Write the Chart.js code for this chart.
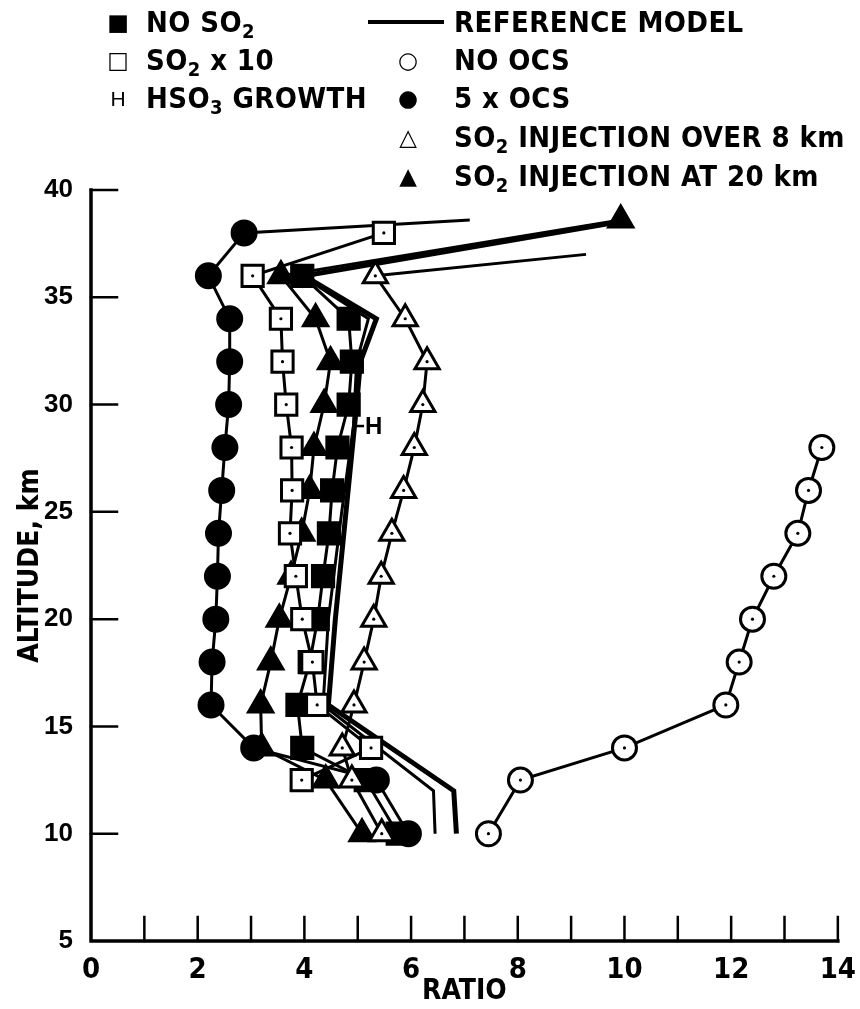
<!DOCTYPE html>
<html>
<head>
<meta charset="utf-8">
<script src="https://cdn.jsdelivr.net/npm/chart.js@4"></script>
<style>
  body { margin: 0; background: #fff; }
  #wrap { position: relative; width: 860px; height: 1009px; }
  .leg { position: absolute; font-family: 'Liberation Sans Narrow', 'DejaVu Sans Condensed', sans-serif;
         font-weight: bold; font-size: 29px; letter-spacing: 0.4px; color: #000; white-space: nowrap; line-height: 1; }
  .leg sub { font-size: 20px; vertical-align: -6px; line-height: 0; }
  .mk { position: absolute; font-family: 'DejaVu Sans', sans-serif; font-size: 23px; line-height: 1; color: #000;
        transform: translate(-50%, -50%); }
</style>
</head>
<body>
<div id="wrap">
  <canvas id="ratioChart" width="860" height="1009"></canvas>

  <span class="mk" style="left:118px;top:22px;">■</span>
  <span class="leg" style="left:146px;top:8px;">NO SO<sub>2</sub></span>
  <span class="mk" style="left:118px;top:60px;">□</span>
  <span class="leg" style="left:146px;top:46px;">SO<sub>2</sub> x 10</span>
  <span class="mk" style="left:118px;top:98px;font-family:'Liberation Sans';font-size:21px;">H</span>
  <span class="leg" style="left:146px;top:84px;">HSO<sub>3</sub> GROWTH</span>

  <span style="position:absolute;left:368px;top:20px;width:76px;height:4px;background:#000;"></span>
  <span class="leg" style="left:454px;top:8px;">REFERENCE MODEL</span>
  <span class="mk" style="left:408px;top:60px;">○</span>
  <span class="leg" style="left:454px;top:46px;">NO OCS</span>
  <span class="mk" style="left:408px;top:98px;">●</span>
  <span class="leg" style="left:454px;top:84px;">5 x OCS</span>
  <span class="mk" style="left:408px;top:137px;">△</span>
  <span class="leg" style="left:454px;top:123px;">SO<sub>2</sub> INJECTION OVER 8 km</span>
  <span class="mk" style="left:408px;top:176px;">▲</span>
  <span class="leg" style="left:454px;top:162px;">SO<sub>2</sub> INJECTION AT 20 km</span>
</div>

<script>
// altitudes (km) and ratios
const noOcsAlt   = [10, 12.5, 14, 16, 18, 20, 22, 24, 26, 28];
const noOcsRatio = [7.45, 8.05, 10.0, 11.9, 12.15, 12.4, 12.8, 13.25, 13.45, 13.7];

const fiveOcsAlt   = [10, 12.5, 14, 16, 18, 20, 22, 24, 26, 28, 30, 32, 34, 36, 38, 38.6];
const fiveOcsRatio = [5.95, 5.35, 3.05, 2.25, 2.27, 2.34, 2.37, 2.39, 2.45, 2.51, 2.58, 2.6, 2.6, 2.2, 2.87, 7.1];

const so2x10Alt   = [12.5, 14, 16, 18, 20, 22, 24, 26, 28, 30, 32, 34, 36, 38];
const so2x10Ratio = [3.95, 5.25, 4.24, 4.15, 3.96, 3.84, 3.73, 3.77, 3.76, 3.66, 3.59, 3.56, 3.03, 5.49];

const noSo2Alt   = [10, 12.5, 14, 16, 18, 20, 22, 24, 26, 28, 30, 32, 34, 36];
const noSo2Ratio = [5.75, 5.15, 3.96, 3.87, 4.1, 4.25, 4.35, 4.46, 4.52, 4.62, 4.83, 4.89, 4.83, 3.96];

const inj20Alt   = [10, 12.5, 14, 16, 18, 20, 22, 24, 26, 28, 30, 32, 34, 36, 38.6];
const inj20Ratio = [5.08, 4.4, 3.2, 3.18, 3.37, 3.53, 3.75, 3.95, 4.1, 4.18, 4.37, 4.49, 4.21, 3.56, 9.93];

const inj8Alt   = [10, 12.5, 14, 16, 18, 20, 22, 24, 26, 28, 30, 32, 34, 36, 37];
const inj8Ratio = [5.45, 4.89, 4.71, 4.93, 5.12, 5.3, 5.44, 5.64, 5.86, 6.06, 6.22, 6.3, 5.89, 5.33, 9.28];

const refAlt   = [10, 12, 16, 20, 25, 30, 32, 34, 36, 38.5];
const refRatio = [6.85, 6.8, 4.45, 4.58, 4.78, 4.98, 5.05, 5.35, 4.0, 9.85];

const hso3Alt   = [10, 12, 16, 20, 25, 29, 32, 34, 36];
const hso3Ratio = [6.45, 6.42, 4.35, 4.45, 4.7, 4.92, 4.98, 5.2, 3.95];

const xTicks = [0, 2, 4, 6, 8, 10, 12, 14];
const yTicks = [5, 10, 15, 20, 25, 30, 35, 40];
const hLabel = { x: 4.95, y: 29 };   // where the "-H" tag sits on the HSO3 curve

const pts = (xs, ys) => xs.map((x, i) => ({ x: x, y: ys[i] }));

// marker on every point except unmarked line ends
function markerUntil(n, r) {
  return ctx => (ctx.dataIndex < n ? r : 0);
}

function series(xs, ys, style, extra) {
  return Object.assign({
    data: pts(xs, ys),
    showLine: true,
    borderColor: '#000',
    borderWidth: 3,
    pointBorderColor: '#000',
    pointBorderWidth: 3,
    pointHoverRadius: 0,
    pointStyle: style,
    clip: false
  }, extra);
}

function dots(xs, ys, n) {
  return {
    data: pts(xs.slice(0, n), ys.slice(0, n)),
    showLine: false,
    pointRadius: 1.6,
    pointBorderWidth: 0,
    pointBackgroundColor: '#000',
    pointStyle: 'circle',
    clip: false
  };
}

// axis lines and inward tick marks, like the printed figure
const inwardAxes = {
  id: 'inwardAxes',
  beforeDatasetsDraw(chart) {
    const { ctx, chartArea: a, scales: { x, y } } = chart;
    ctx.save();
    ctx.strokeStyle = '#000';
    ctx.lineCap = 'square';
    ctx.lineWidth = 3.5;
    ctx.beginPath();
    ctx.moveTo(a.left, y.getPixelForValue(40));
    ctx.lineTo(a.left, a.bottom);
    ctx.lineTo(x.getPixelForValue(14), a.bottom);
    ctx.stroke();
    ctx.lineWidth = 2.5;
    ctx.beginPath();
    yTicks.slice(1).forEach(v => {
      const py = y.getPixelForValue(v);
      ctx.moveTo(a.left, py);
      ctx.lineTo(a.left + 26, py);
    });
    for (let v = 1; v <= 14; v++) {
      const px = x.getPixelForValue(v);
      ctx.moveTo(px, a.bottom);
      ctx.lineTo(px, a.bottom - 24);
    }
    ctx.stroke();
    ctx.restore();
  },
  afterDatasetsDraw(chart) {
    const { ctx, scales: { x, y } } = chart;
    const px = x.getPixelForValue(hLabel.x), py = y.getPixelForValue(hLabel.y);
    ctx.save();
    ctx.strokeStyle = '#000';
    ctx.lineWidth = 2.5;
    ctx.beginPath();
    ctx.moveTo(px, py);
    ctx.lineTo(px + 9, py);
    ctx.stroke();
    ctx.fillStyle = '#000';
    ctx.font = "bold 24px 'Liberation Sans'";
    ctx.textBaseline = 'middle';
    ctx.fillText('H', px + 10, py + 1);
    ctx.restore();
  }
};

const ctx = document.getElementById('ratioChart').getContext('2d');
new Chart(ctx, {
  type: 'scatter',
  data: {
    datasets: [
      dots(noOcsRatio, noOcsAlt, noOcsAlt.length),
      dots(so2x10Ratio, so2x10Alt, so2x10Alt.length),
      dots(inj8Ratio, inj8Alt, inj8Alt.length - 1),
      series(noOcsRatio, noOcsAlt, 'circle', {
        pointRadius: 12, pointBackgroundColor: '#fff'
      }),
      series(inj8Ratio, inj8Alt, 'triangle', {
        pointRadius: markerUntil(inj8Alt.length - 1, 14), pointBackgroundColor: '#fff'
      }),
      series(so2x10Ratio, so2x10Alt, 'rect', {
        pointRadius: 15, pointBackgroundColor: '#fff'
      }),
      series(inj20Ratio, inj20Alt, 'triangle', {
        pointRadius: 14, pointBackgroundColor: '#000'
      }),
      series(noSo2Ratio, noSo2Alt, 'rect', {
        pointRadius: 15, pointBackgroundColor: '#000'
      }),
      series(fiveOcsRatio, fiveOcsAlt, 'circle', {
        pointRadius: markerUntil(fiveOcsAlt.length - 1, 12), pointBackgroundColor: '#000'
      }),
      series(hso3Ratio, hso3Alt, 'circle', { pointRadius: 0, borderWidth: 3 }),
      series(refRatio, refAlt, 'circle', { pointRadius: 0, borderWidth: 5 })
    ]
  },
  options: {
    responsive: false,
    animation: false,
    events: [],
    layout: { padding: { top: 190, right: 18, left: 0, bottom: 0 } },
    plugins: { legend: { display: false }, tooltip: { enabled: false } },
    scales: {
      x: {
        type: 'linear', min: 0, max: 14,
        afterBuildTicks: s => { s.ticks = xTicks.map(v => ({ value: v })); },
        afterFit: s => { s.height = 68; },
        grid: { display: false },
        border: { display: false },
        ticks: {
          color: '#000', padding: 4, maxRotation: 0,
          font: { family: "'Liberation Sans Narrow', 'DejaVu Sans Condensed'", weight: 'bold', size: 29 }
        },
        title: {
          display: true, text: 'RATIO', color: '#000', padding: { top: -6, bottom: 0 },
          font: { family: "'Liberation Sans Narrow', 'DejaVu Sans Condensed'", weight: 'bold', size: 28 }
        }
      },
      y: {
        type: 'linear', min: 5, max: 40,
        afterBuildTicks: s => { s.ticks = yTicks.map(v => ({ value: v })); },
        afterFit: s => { s.width = 91; },
        grid: { display: false },
        border: { display: false },
        ticks: {
          color: '#000', padding: 10,
          font: { family: "'Liberation Sans', Arial", weight: 'bold', size: 26 }
        },
        title: {
          display: true, text: 'ALTITUDE, km', color: '#000', padding: { top: 14, bottom: 0 },
          font: { family: "'Liberation Sans Narrow', 'DejaVu Sans Condensed'", weight: 'bold', size: 28 }
        }
      }
    }
  },
  plugins: [inwardAxes]
});
</script>
</body>
</html>
